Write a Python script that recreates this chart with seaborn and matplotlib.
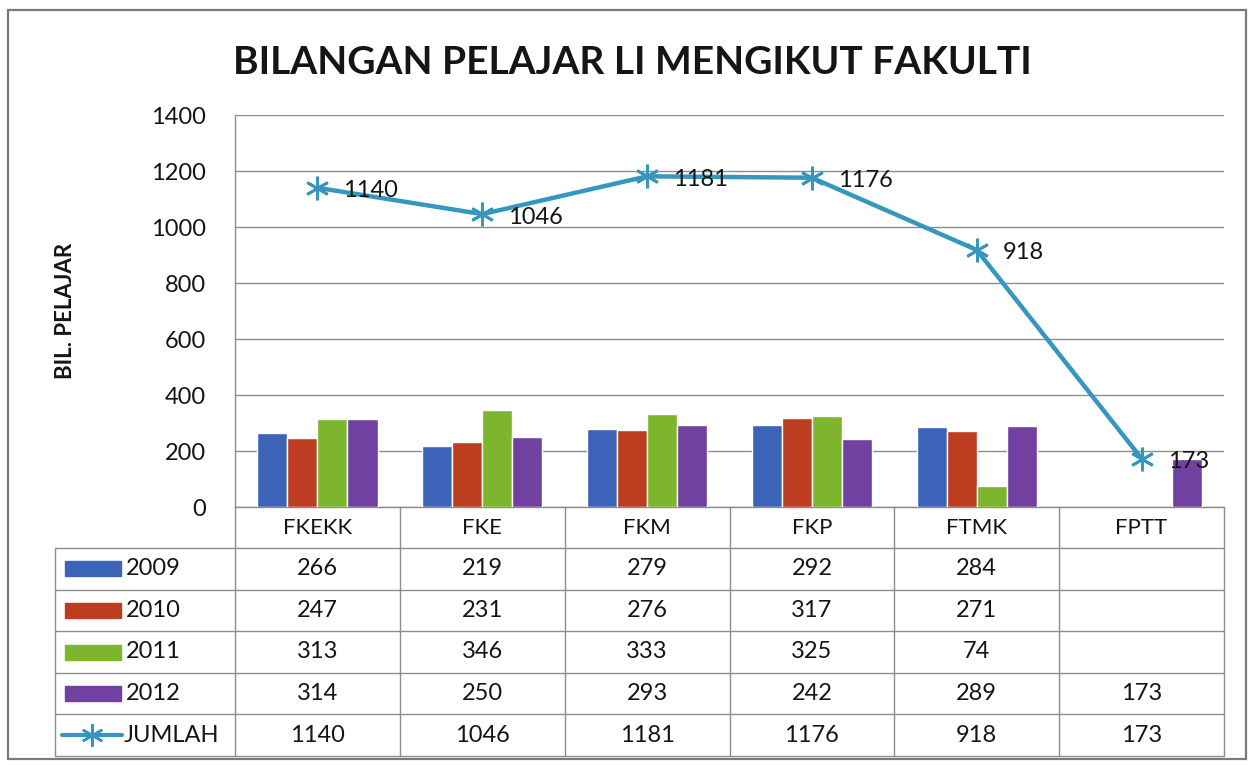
import numpy as np
import pandas as pd
import matplotlib
matplotlib.use("Agg")
import matplotlib.pyplot as plt
from matplotlib.patches import Rectangle
import seaborn as sns

# ── Data ──────────────────────────────────────────────────────────────────────
fakulti = ["FKEKK", "FKE", "FKM", "FKP", "FTMK", "FPTT"]
tahun = ["2009", "2010", "2011", "2012"]
bil_2009 = [266, 219, 279, 292, 284, np.nan]
bil_2010 = [247, 231, 276, 317, 271, np.nan]
bil_2011 = [313, 346, 333, 325, 74, np.nan]
bil_2012 = [314, 250, 293, 242, 289, 173]
jumlah = [1140, 1046, 1181, 1176, 918, 173]
yticks = [0, 200, 400, 600, 800, 1000, 1200, 1400]

warna = ["#3B64B8", "#BC3D1F", "#7DB52C", "#7041A0"]
warna_jumlah = "#3597BE"
garis = "#8C8C8C"
teks = "#151515"

siri = [bil_2009, bil_2010, bil_2011, bil_2012]
df = pd.DataFrame({
    "fakulti": fakulti * len(tahun),
    "tahun": np.repeat(tahun, len(fakulti)),
    "bil": np.concatenate(siri),
})

sns.set_style("white")
plt.rcParams["font.family"] = ["Lato", "DejaVu Sans"]

W, H = 1254, 765
fig = plt.figure(figsize=(W / 100, H / 100), dpi=100)

# plot area in pixels
px_l, px_r, px_t, px_b = 235, 1224, 115, 507
ax = fig.add_axes([px_l / W, 1 - px_b / H, (px_r - px_l) / W, (px_b - px_t) / H])

sns.barplot(data=df, x="fakulti", y="bil", hue="tahun", order=fakulti,
            hue_order=tahun, palette=warna, width=0.73, errorbar=None,
            legend=False, saturation=1, ax=ax, zorder=3)

x_pos = np.arange(len(fakulti))
sns.lineplot(x=x_pos, y=jumlah, ax=ax, color=warna_jumlah, linewidth=3.2,
             marker=(6, 2, 0), markersize=17, markeredgewidth=2.0,
             markeredgecolor=warna_jumlah, zorder=5)
for i, v in enumerate(jumlah):
    ax.annotate(str(v), (i, v), xytext=(26, -3), textcoords="offset pixels",
                ha="left", va="center", fontsize=17, color=teks, zorder=6)

ax.set_xlim(-0.5, len(fakulti) - 0.5)
ax.set_ylim(0, 1400)
ax.set_yticks(yticks)
ax.set_yticklabels([str(t) for t in yticks], fontsize=17, color=teks)
ax.tick_params(axis="y", length=0, pad=21)
ax.set_xticks([])
ax.set_xlabel("")
ax.set_ylabel("")
ax.grid(axis="y", color=garis, linewidth=1.0, zorder=0)
ax.set_axisbelow(True)
for s in ["top", "right"]:
    ax.spines[s].set_visible(False)
for s in ["left", "bottom"]:
    ax.spines[s].set_color(garis)
    ax.spines[s].set_linewidth(1.0)

fig.text(632 / W, 1 - 62 / H, "BILANGAN PELAJAR LI MENGIKUT FAKULTI",
         ha="center", va="center", fontsize=28, fontweight="bold", color=teks)
fig.text(65 / W, 1 - 311 / H, "BIL. PELAJAR", rotation=90, ha="center",
         va="center", fontsize=16, fontweight="bold", color=teks)

# ── Data table below the plot ─────────────────────────────────────────────────
tab = fig.add_axes([0, 0, 1, 1], facecolor="none")
tab.set_xlim(0, W)
tab.set_ylim(H, 0)
tab.axis("off")

colw = (px_r - px_l) / len(fakulti)
leg_l = 55
row_h = 41.6
n_rows = len(tahun) + 1
y_bottom = 548 + row_h * n_rows

tab.add_patch(Rectangle((8, 10), 1238, 749, fill=False, edgecolor="#7a7a7a", lw=1.6))

# vertical lines
for i in range(len(fakulti) + 1):
    tab.plot([px_l + i * colw] * 2, [px_b, y_bottom], color=garis, lw=1.0)
tab.plot([leg_l, leg_l], [548, y_bottom], color=garis, lw=1.0)
# horizontal lines
for k in range(n_rows + 1):
    y = 548 + k * row_h
    tab.plot([leg_l, px_r], [y, y], color=garis, lw=1.0)

# header labels
for i, f in enumerate(fakulti):
    tab.text(px_l + (i + 0.5) * colw, (px_b + 548) / 2 + 1, f, ha="center",
             va="center", fontsize=16, color=teks)

# series rows
for k, (t, vals, c) in enumerate(zip(tahun, siri, warna)):
    yc = 548 + (k + 0.5) * row_h
    tab.add_patch(Rectangle((65, yc - 7.5), 56, 15, color=c))
    tab.text(126, yc, t, ha="left", va="center", fontsize=17, color=teks)
    for i, v in enumerate(vals):
        if not np.isnan(v):
            tab.text(px_l + (i + 0.5) * colw, yc, str(int(v)), ha="center",
                     va="center", fontsize=17, color=teks)

yc = 548 + (len(tahun) + 0.5) * row_h
tab.plot([62, 122], [yc, yc], color=warna_jumlah, lw=3.0)
tab.plot([92], [yc], marker=(6, 2, 0), markersize=16, markeredgewidth=1.8,
         color=warna_jumlah)
tab.text(124, yc, "JUMLAH", ha="left", va="center", fontsize=17, color=teks)
for i, v in enumerate(jumlah):
    tab.text(px_l + (i + 0.5) * colw, yc, str(v), ha="center", va="center",
             fontsize=17, color=teks)

fig.savefig("out.png", dpi=100)
plt.close(fig)
